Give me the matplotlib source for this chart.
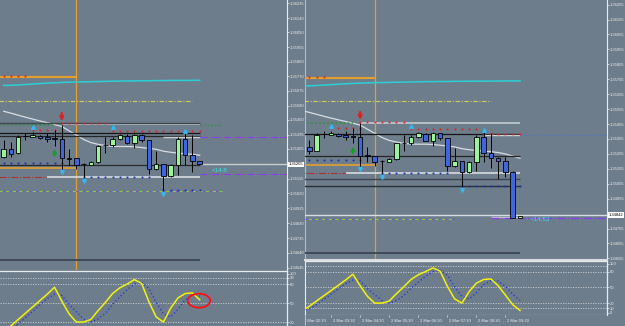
import matplotlib
matplotlib.use('Agg')
import matplotlib.pyplot as plt
from matplotlib.patches import Ellipse

plt.rcParams['font.family'] = ['Liberation Sans', 'DejaVu Sans']

W, H = 625, 326
BG = '#6e7d8c'
FG = '#e8ebee'
BULL = '#98f598'
BEAR = '#3f66dc'
RED = '#e02020'
NAVY = '#1a2fb0'
ORANGE = '#e3a02c'
PURPLE = '#8a3cf0'
TICK_FS = 3.0

# ---------------- data (M15, index 0 = 2 Mar 02:30) ----------------
opens  = [1.35255, 1.35304, 1.35277, 1.35387, 1.35380, 1.35389, 1.35382, 1.35372,
          1.35371, 1.35245, 1.35244, 1.35210, 1.35203, 1.35219, 1.35330, 1.35331,
          1.35367, 1.35389, 1.35344, 1.35393, 1.35360, 1.35177, 1.35210, 1.35132,
          1.35203, 1.35371, 1.35264, 1.35226, 1.35210, 1.35132, 1.34824]
highs  = [1.35361, 1.35349, 1.35393, 1.35405, 1.35411, 1.35393, 1.35405, 1.35427,
          1.35460, 1.35304, 1.35244, 1.35215, 1.35226, 1.35331, 1.35382, 1.35382,
          1.35400, 1.35398, 1.35400, 1.35398, 1.35360, 1.35293, 1.35210, 1.35210,
          1.35382, 1.35405, 1.35393, 1.35237, 1.35237, 1.35143, 1.34842]
lows   = [1.35244, 1.35255, 1.35271, 1.35360, 1.35380, 1.35371, 1.35349, 1.35326,
          1.35177, 1.35203, 1.35177, 1.35125, 1.35203, 1.35215, 1.35277, 1.35315,
          1.35360, 1.35338, 1.35311, 1.35349, 1.35143, 1.35170, 1.35040, 1.35125,
          1.35137, 1.35203, 1.35159, 1.35087, 1.35103, 1.34824, 1.34824]
closes = [1.35302, 1.35271, 1.35382, 1.35389, 1.35393, 1.35376, 1.35367, 1.35370,
          1.35244, 1.35243, 1.35203, 1.35209, 1.35219, 1.35326, 1.35331, 1.35367,
          1.35393, 1.35344, 1.35393, 1.35360, 1.35177, 1.35210, 1.35132, 1.35203,
          1.35371, 1.35264, 1.35226, 1.35210, 1.35132, 1.34824, 1.34842]
# the left snapshot was taken while candle 27 was still forming
left_last_ohlc = [1.35226, 1.35226, 1.35205, 1.35205]

ma_white = [1.35545, 1.35533, 1.35520, 1.35507, 1.35495, 1.35483, 1.35472, 1.35460,
            1.35448, 1.35420, 1.35393, 1.35365, 1.35345, 1.35334, 1.35326, 1.35321,
            1.35320, 1.35320, 1.35318, 1.35313, 1.35308, 1.35302, 1.35290, 1.35283,
            1.35278, 1.35273, 1.35270, 1.35264, 1.35254, 1.35240, 1.35226]
ma_cyan = [1.35710, 1.35711, 1.35713, 1.35716, 1.35719, 1.35722, 1.35725, 1.35727,
           1.35729, 1.35731, 1.35732, 1.35733, 1.35734, 1.35735, 1.35736, 1.35737,
           1.35738, 1.35739, 1.35739, 1.35740, 1.35740, 1.35741, 1.35741, 1.35742,
           1.35742, 1.35742, 1.35743, 1.35743, 1.35744, 1.35744, 1.35744]

stoch_k = [5, 14, 24, 34, 44, 54, 64, 75, 53, 33, 20, 20, 24, 38, 51, 65,
           74, 80, 87, 81, 52, 28, 20, 42, 58, 65, 66, 53, 35, 17, 6]
stoch_d = [6, 9, 17, 27, 37, 47, 57, 64, 62, 48, 36, 25, 20, 25, 34, 48,
           60, 71, 80, 83, 73, 51, 33, 28, 40, 55, 63, 62, 52, 37, 25]
stoch_k_left_last = 55
stoch_d_left_last = 61
stoch_levels = [90, 80, 50, 20, 10]

up_fractal_idx = [4, 15, 25]
up_fractal_price = [1.35445, 1.35445, 1.35417]
dn_fractal_idx = [8, 11, 22]
dn_fractal_price = [1.35155, 1.35100, 1.35014]

left_tick_labels = ['1.36235', '1.36140', '1.36050', '1.35955', '1.35860', '1.35770',
                    '1.35675', '1.35580', '1.35490', '1.35395', '1.35305', '1.35115',
                    '1.35020', '1.34925', '1.34830', '1.34735', '1.34640', '1.34545']
right_tick_labels = ['1.36255', '1.36155', '1.36055', '1.35955', '1.35855', '1.35755',
                     '1.35655', '1.35555', '1.35455', '1.35355', '1.35255', '1.35155',
                     '1.35055', '1.34955', '1.34755', '1.34655', '1.34555']
left_bid = 1.35205
left_bid_label = '1.35205'
right_bid = 1.34845
right_bid_label = '1.34842'

time_tick_idx = [0, 4, 8, 12, 16, 20, 24, 28]
time_labels = ['2 Mar 02:30', '2 Mar 03:30', '2 Mar 04:30', '2 Mar 05:30',
               '2 Mar 06:30', '2 Mar 07:30', '2 Mar 08:30', '2 Mar 09:30']

left_timer = '<14:8'
right_timer = '<14:53'

# level prices
lv_orange_hi = 1.35763
lv_red_top = 1.35772
lv_yellow = 1.35612
lv_green_dot = 1.35460
lv_gray_band = 1.35463
lv_red_a = 1.35467
lv_red_b = 1.35427
lv_red_c = 1.35422
lv_blue_a = 1.35213
lv_orange_lo = 1.35181
lv_sup = 1.35125
lv_low_dark = 1.34592
lv_blue_c = 1.35040

# ---------------- figure ----------------
fig = plt.figure(figsize=(W / 100, H / 100), dpi=100, facecolor=BG)


def px_ax(x0, y0, x1, y1):
    ax = fig.add_axes([x0 / W, 1 - y1 / H, (x1 - x0) / W, (y1 - y0) / H])
    ax.set_facecolor(BG)
    for s in ax.spines.values():
        s.set_visible(False)
    ax.set_xticks([])
    ax.set_yticks([])
    return ax


axL = px_ax(0, 0, 287, 269.5)
axLi = px_ax(0, 270.5, 287, 326)
axR = px_ax(305, 0, 607, 260)
axRi = px_ax(305, 261, 607, 314.5)
axT = px_ax(305, 314.5, 607, 326)

axL.set_xlim(-0.51, 39.02)
axLi.set_xlim(-0.51, 39.02)
axL.set_ylim(1.34534, 1.36256)
axLi.set_ylim(13.7, 101.4)
for a in (axR, axRi, axT):
    a.set_xlim(0.41, 41.97)
axR.set_ylim(1.34544, 1.36286)
axRi.set_ylim(-1.7, 100.2)


def candles(ax, idx, o, h, l, c):
    for x, oo, hh, ll, cc in zip(idx, o, h, l, c):
        ax.vlines(x, ll, hh, color='black', lw=0.7, zorder=5)
        lo, hi = min(oo, cc), max(oo, cc)
        ax.bar(x, max(hi - lo, 0.000012), 0.62, lo,
               color=BULL if cc >= oo else BEAR, edgecolor='black', lw=0.6, zorder=6)


def dots(ax, price, a, b, color):
    xs = list(range(a, b + 1))
    ax.plot(xs, [price] * len(xs), ls='none', marker='s', ms=1.3, mew=0,
            color=color, zorder=4)


def common(ax, last):
    xs = list(range(0, last + 1))
    ax.axvline(10, color=ORANGE, lw=0.9, zorder=2)
    ax.plot(xs, ma_cyan[:last + 1], color='#2ad0d8', lw=1.1, zorder=3)
    ax.plot(xs, ma_white[:last + 1], color='#d8dde2', lw=0.9, zorder=3)
    ax.hlines(lv_orange_hi, -1, 10, color=ORANGE, lw=1.5, zorder=3)
    dots(ax, lv_red_top, 0, 3, RED)
    ax.hlines(lv_yellow, -1, 26, color='#d4d05a', lw=0.8,
              linestyles=[(0, (4, 1.5, 1, 1.5))], zorder=3)
    ax.hlines(lv_green_dot, -1, 7, color='#2f8f3a', lw=1.1, linestyles=':', zorder=3)
    ax.hlines(lv_gray_band, 8, last, color='#b6bec6', lw=1.4, zorder=3)
    dots(ax, lv_red_a, 8, 14, RED)
    dots(ax, lv_red_b, 4, 8, RED)
    dots(ax, lv_blue_a, 0, 8, NAVY)
    ax.hlines(lv_orange_lo, -1, 10, color=ORANGE, lw=1.2, zorder=3)
    ax.hlines(lv_sup, -1, 6, color='#b03030', lw=0.8, linestyles='-.', zorder=3)
    ax.hlines(lv_sup, 6, last, color='#dfe3e7', lw=1.1, zorder=3)
    dots(ax, lv_sup + 0.00002, 11, 20, NAVY)
    ax.hlines(lv_low_dark, -1, last, color='#3c4652', lw=1.3, zorder=3)
    dots(ax, lv_blue_c, 22, last, NAVY)
    # fractals
    ax.plot(up_fractal_idx, up_fractal_price, ls='none', marker='^', ms=2.6,
            color='#35b8f0', zorder=7)
    ax.plot(dn_fractal_idx, dn_fractal_price, ls='none', marker='v', ms=2.6,
            color='#35b8f0', zorder=7)
    # signal arrows
    ax.annotate('', xy=(8, 1.35482), xytext=(8, 1.35535),
                arrowprops=dict(arrowstyle='-|>', color=RED, lw=1.6,
                                mutation_scale=5, shrinkA=0, shrinkB=0), zorder=8)
    ax.annotate('', xy=(7, 1.35305), xytext=(7, 1.35260),
                arrowprops=dict(arrowstyle='-|>', color='#1f9a2a', lw=1.4,
                                mutation_scale=5, shrinkA=0, shrinkB=0), zorder=8)


def dashdot2(ax, price, a, b):
    ax.hlines(price, a, b, color='#7fd040', lw=0.8, linestyles=[(0, (3, 3))], zorder=3)
    ax.hlines(price, a, b, color=PURPLE, lw=0.8, linestyles=[(3, (1.5, 4.5))], zorder=3)


def price_axis(ax, labels, bid, bid_label, width_px):
    vals = [float(s) for s in labels]
    ax.yaxis.tick_right()
    ax.set_yticks(vals, labels)
    ax.tick_params(axis='y', direction='out', length=1.5, width=0.5, color=FG,
                   labelcolor=FG, labelsize=TICK_FS, pad=0.8)
    ax.spines['right'].set_visible(True)
    ax.spines['right'].set_color(FG)
    ax.spines['right'].set_linewidth(0.8)
    ax.text(1.0 + 1.5 / width_px, bid, bid_label, transform=ax.get_yaxis_transform(),
            fontsize=TICK_FS, color='black', va='center', ha='left', clip_on=False,
            bbox=dict(fc='white', ec='none', pad=0.5), zorder=10)


# ---------------- left price chart ----------------
common(axL, 27)
axL.hlines(1.35470, -1, 27, color='#404850', lw=1.0, zorder=3)
axL.hlines(1.35408, -1, 27, color='#151515', lw=0.9, zorder=3)
axL.hlines(1.35386, -1, 27, color='#252525', lw=0.9, zorder=3)
axL.hlines(1.35383, 22, 27, color='#c8ced4', lw=1.0, zorder=3)
axL.hlines(1.35378, 27, 40, color=PURPLE, lw=0.8, linestyles='-.', zorder=3)
dots(axL, lv_red_c, 15, 27, RED)
axL.hlines(1.35204, -1, 27, color='#2a2a2a', lw=0.9, zorder=3)
axL.hlines(left_bid, 27, 40, color='#c8ced4', lw=1.0, zorder=3)
axL.hlines(1.35144, 27, 40, color=PURPLE, lw=0.8, linestyles='-.', zorder=3)
dashdot2(axL, 1.35036, -1, 30)
axL.hlines(1.35457, 27, 30, color='#2f8f3a', lw=1.0, linestyles=':', zorder=3)
candles(axL, range(0, 27), opens[:27], highs[:27], lows[:27], closes[:27])
candles(axL, [27], [left_last_ohlc[0]], [left_last_ohlc[1]],
        [left_last_ohlc[2]], [left_last_ohlc[3]])
axL.text(28.7, 1.35168, left_timer, color='#40e0e8', fontsize=4.5, va='center', ha='left')
price_axis(axL, left_tick_labels, left_bid, left_bid_label, 287)

# ---------------- right price chart ----------------
common(axR, 30)
axR.hlines(1.35389, -1, 30, color='#151515', lw=0.9, zorder=3)
axR.hlines(1.35384, 25, 30, color='#d0d5da', lw=1.0, zorder=3)
dots(axR, 1.35391, 25, 30, RED)
dots(axR, lv_red_c, 15, 24, RED)
axR.hlines(1.35384, 30, 42, color='#4a78c8', lw=0.8, linestyles=':', zorder=3)
axR.hlines(1.35243, -1, 30, color='#252525', lw=0.9, zorder=3)
axR.hlines(1.35087, -1, 30, color='#3c4652', lw=1.0, zorder=3)
axR.hlines(1.35040, -1, 30, color='#2a3038', lw=1.0, zorder=3)
dashdot2(axR, 1.34819, -1, 21)
axR.hlines(1.34830, 26, 30, color='#c0c6cc', lw=1.0, zorder=3)
axR.hlines(1.34824, 26, 42, color=PURPLE, lw=0.9, linestyles='-.', zorder=3)
axR.hlines(right_bid, -1, 42, color='#d8dde2', lw=1.0, zorder=3)
candles(axR, range(1, 31), opens[1:], highs[1:], lows[1:], closes[1:])
axR.text(31.5, 1.34817, right_timer, color='#40e0e8', fontsize=4.5, va='center', ha='left')
price_axis(axR, right_tick_labels, right_bid, right_bid_label, 302)
axR.spines['left'].set_visible(True)
axR.spines['left'].set_color('#b4bcc6')
axR.spines['left'].set_linewidth(0.8)
axR.spines['bottom'].set_visible(True)
axR.spines['bottom'].set_color('#d8dce0')
axR.spines['bottom'].set_linewidth(1.5)


# ---------------- stochastic panels ----------------
def stoch_panel(ax, xs, k, d, ticks, tick_labels):
    for lv in stoch_levels:
        ax.axhline(lv, color='#c8ccd0', lw=0.6, ls=(0, (1.5, 1.5)), zorder=1)
    ax.plot(xs, d, color='#2c3cc8', lw=1.0, ls=':', zorder=3)
    ax.plot(xs, k, color='#f2f20a', lw=1.1, zorder=4)
    ax.yaxis.tick_right()
    ax.set_yticks(ticks, tick_labels)
    ax.tick_params(axis='y', direction='out', length=1.5, width=0.5, color=FG,
                   labelcolor=FG, labelsize=TICK_FS, pad=0.8)
    for s in ('top', 'right'):
        ax.spines[s].set_visible(True)
        ax.spines[s].set_color(FG)
        ax.spines[s].set_linewidth(0.9)


stoch_panel(axLi, list(range(0, 28)), stoch_k[:27] + [stoch_k_left_last],
            stoch_d[:27] + [stoch_d_left_last],
            [96, 90, 80, 50, 20], ['100', '90', '80', '50', '20'])
axLi.add_patch(Ellipse((26.9, 53.7), width=3.1, height=22, fill=False,
                       ec='#ff1010', lw=1.3, zorder=6))

stoch_panel(axRi, list(range(0, 31)), stoch_k, stoch_d,
            [95, 80, 50, 20, 10, 2], ['100', '80', '50', '20', '10', '0'])
for s in ('left', 'bottom'):
    axRi.spines[s].set_visible(True)
    axRi.spines[s].set_color(FG)
    axRi.spines[s].set_linewidth(0.8)

# ---------------- time axis ----------------
axT.set_ylim(0, 1)
axT.spines['left'].set_visible(True)
axT.spines['left'].set_color('#b4bcc6')
axT.vlines(time_tick_idx, 0.75, 1.0, color=FG, lw=0.5, clip_on=True)
for i, lab in zip(time_tick_idx, time_labels):
    axT.text(i + 0.25, 0.45, lab, color=FG, fontsize=TICK_FS, va='center', ha='left',
             clip_on=True)

fig.savefig('out.png', dpi=100, facecolor=BG)
